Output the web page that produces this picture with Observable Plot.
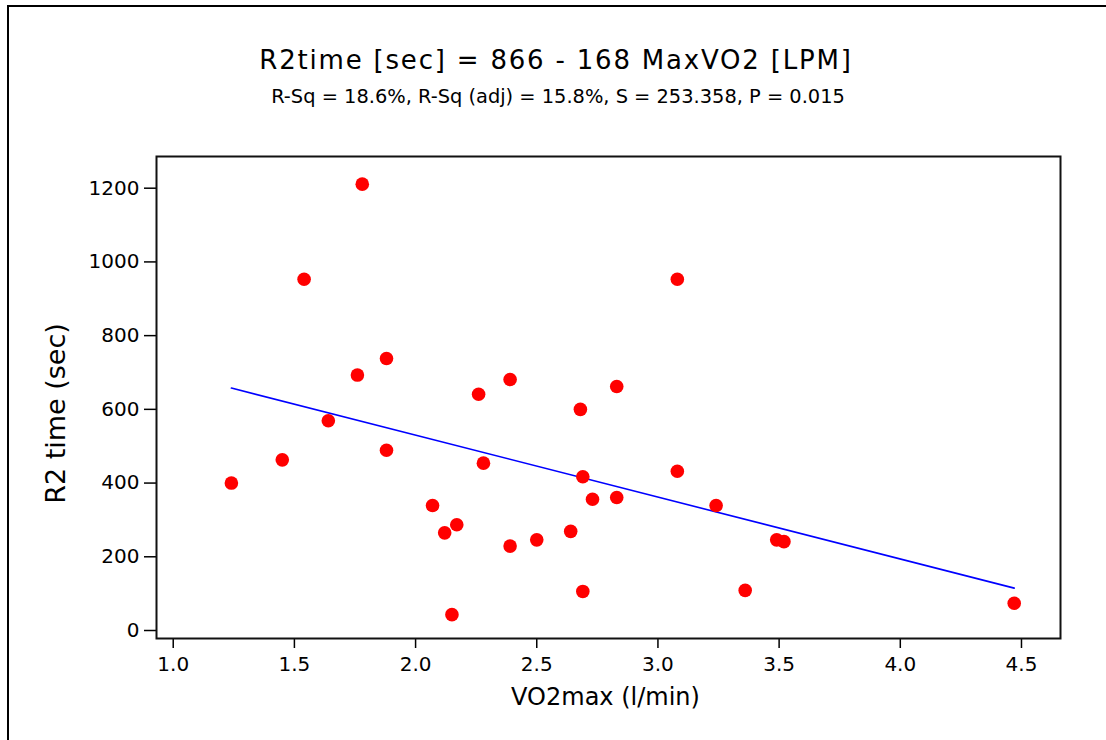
<!DOCTYPE html>
<html><head><meta charset="utf-8">
<script src="https://cdn.jsdelivr.net/npm/d3@7"></script>
<script src="https://cdn.jsdelivr.net/npm/@observablehq/plot@0.6"></script>
<style>
html,body{margin:0;padding:0;background:#fff;}
body{width:1106px;height:740px;overflow:hidden;position:relative;font-family:"DejaVu Sans",sans-serif;color:#000;}
#border{position:absolute;left:7px;top:5px;width:1300px;height:900px;border-left:2px solid #000;border-top:2px solid #000;z-index:10;pointer-events:none;}
#title{position:absolute;left:0;width:1112px;top:47px;text-align:center;font-size:26px;line-height:26px;letter-spacing:1.8px;white-space:nowrap;}
#subtitle{position:absolute;left:0;width:1116px;top:87px;text-align:center;font-size:19.4px;line-height:19.4px;white-space:nowrap;}
#chart{position:absolute;left:0;top:120px;}
</style>
</head><body>
<div id="border"></div>
<div id="title"></div>
<div id="subtitle"></div>
<div id="chart"></div>
<script>
// Data
const vo2max = [1.24, 1.45, 1.54, 1.64, 1.76, 1.78, 1.88, 1.88, 2.07, 2.12, 2.15, 2.17, 2.26, 2.28, 2.39, 2.39, 2.50, 2.64, 2.68, 2.69, 2.69, 2.73, 2.83, 2.83, 3.08, 3.08, 3.24, 3.36, 3.49, 3.52, 4.47];
const r2time = [400, 463, 953, 569, 693, 1211, 738, 489, 339, 265, 43, 287, 641, 454, 681, 229, 246, 269, 600, 417, 106, 356, 662, 361, 953, 432, 339, 109, 246, 241, 74];
const intercept = 866;
const slope = -168;
const xTicks = [1.0, 1.5, 2.0, 2.5, 3.0, 3.5, 4.0, 4.5];
const yTicks = [0, 200, 400, 600, 800, 1000, 1200];
const titleText = "R2time [sec] = 866 - 168 MaxVO2 [LPM]";
const subtitleText = "R-Sq = 18.6%, R-Sq (adj) = 15.8%, S = 253.358, P = 0.015";
const xLabel = "VO2max (l/min)";
const yLabel = "R2 time (sec)";

document.getElementById("title").textContent = titleText;
document.getElementById("subtitle").textContent = subtitleText;

const points = vo2max.map((x, i) => ({x, y: r2time[i]}));
const fitLine = d3.extent(vo2max).map(x => ({x, y: intercept + slope * x}));

const chart = Plot.plot({
  width: 1106,
  height: 620,
  marginLeft: 156,
  marginRight: 46,
  marginTop: 36,
  marginBottom: 102,
  style: {fontFamily: '"DejaVu Sans", sans-serif', fontSize: "20px", color: "#000", background: "transparent"},
  x: {domain: [0.931, 4.661]},
  y: {domain: [-21.7, 1286]},
  marks: [
    Plot.axisX(xTicks, {tickSize: 10, tickPadding: 8, tickFormat: d3.format(".1f"), label: null, stroke: "#000", strokeWidth: 1.5}),
    Plot.axisY(yTicks, {tickSize: 12, tickPadding: 5, tickFormat: d3.format("d"), label: null, stroke: "#000", strokeWidth: 1.5}),
    Plot.line(fitLine, {x: "x", y: "y", stroke: "#0000ff", strokeWidth: 1.6}),
    Plot.dot(points, {x: "x", y: "y", r: 6.8, fill: "#ff0000", stroke: "none"}),
    Plot.frame({stroke: "#111", strokeWidth: 2}),
    Plot.text([xLabel], {frameAnchor: "bottom", dx: -3, dy: 59, fontSize: 24, textAnchor: "middle", lineAnchor: "middle", text: d => d}),
    Plot.text([yLabel], {frameAnchor: "left", dx: -100, dy: 16, rotate: -90, fontSize: 27, textAnchor: "middle", lineAnchor: "middle", text: d => d})
  ]
});
document.getElementById("chart").appendChild(chart);
</script>
</body></html>
